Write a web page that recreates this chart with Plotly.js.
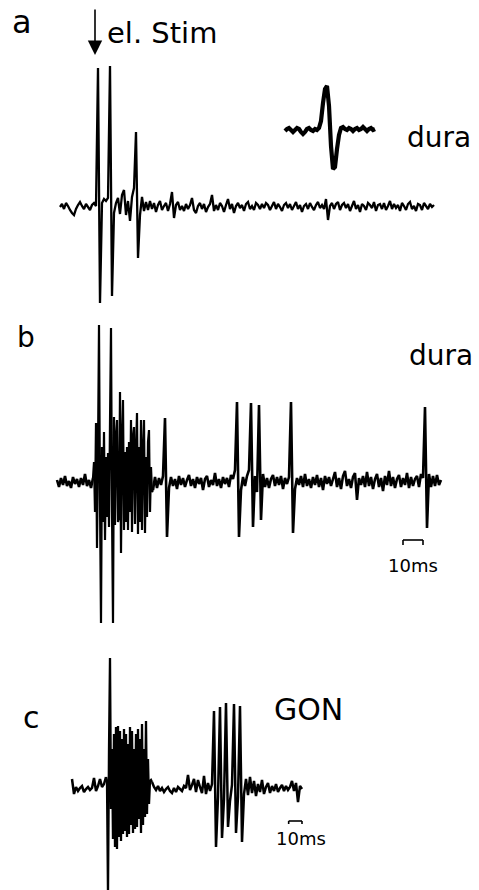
<!DOCTYPE html>
<html>
<head>
<meta charset="utf-8">
<script src="https://cdn.plot.ly/plotly-3.0.1.min.js"></script>
<style>html,body{margin:0;padding:0;background:#fff;}#chart{width:479px;height:890px;}</style>
</head>
<body>
<div id="chart"></div>
<script>
// ---------------- DATA ----------------
// Panel a: dura unit, electrical stimulation; one sample per 1 ms
const traceA_dt = 1;      // ms per sample
const traceA = [
  0, 3, -2, 4, 1, -3, -6, -8, -2, 2, 5, 1, -2, 3, 0, -3, 2, 4, 1,
  139, -96,
  4, 8, 6, 9,
  141, -89,
  -6, 4, 9, -7, 12, 17, -8, 6, -14, 10, 19,
  75, -51,
  -8, 10, -4, 5, -3, 6, -2, 4, -5, 2, 6, -3, 1, 4, -4, 3, 15, -11, 2, 5, -3,
  1, -4, 3, -2, 2, 9, -3, -6, 1, 4,
  -2, 3, -5, 0, 3, 12, -4, 2, -3, 4,
  1, -5, 2, 8, -2, 3, -6, 1, 4, -1,
  2, -4, 3, 5, -2, 1, -3, 4, 2, -2,
  3, -1, 4, 2, -3, 1, 5, -2, 3, 0,
  -4, 2, 4, -1, 3, -3, 1, 5, -2, 2,
  -5, 1, 3, -2, 4, 0, -3, 2, 5, -1,
  2, -2, 8, -13, 1, 4, -2, 3, 5, -3,
  2, 4, -1, 3, -4, 1, 6, -2, 2, -5,
  3, 1, -3, 4, 2, -1, 5, -4, 2, 3,
  -2, 4, -3, 1, 6, -2, 3, -1, 2, -4,
  4, 1, -3, 3, 5, -2, 1, -4, 3, 2,
  -3, 4, 1, -2, 3, 0, 2
];
// Inset in panel a: averaged spike waveform; one sample per 0.1 ms
const spikeInset_dt = 0.1;
const spikeInset = [
  0, 2, 3, 1, -1, 1, 3, 2, -1, -3, -1, 2, 3, 1, 0, 2, 1, 3,
  10, 28, 42, 45, 25, -15, -38, -36, -18, -4,
  3, 4, 2, 1, 3, 2, 0, 2, 3, 1, 2, 4, 2, 0, 2, 3, 1, 2
];

// Panel b: dura unit. Pre-burst (1 ms/sample), burst (0.5 ms/sample), rest (1 ms/sample)
const traceB_pre_t0 = 0, traceB_pre_dt = 1;
const traceB_pre = [
  2, -5, 4, -3, 6, -4, 1, -6, 5, -2, 3, -5, 4, -3, 8, -4, 2, -6, 4
];
const traceB_burst_t0 = 18, traceB_burst_dt = 0.5;
const traceB_burst = [
  4, 20, -30, 59, -66, 30, 157, -20, -141, 35,
  -40, 50, -58, 25, -35, 29, -45, 60, 154, -30,
  -141, 65, -43, 45, 62, -40, -35, 90, -71, 40,
  82, -48, 30, -40, 35, -48, 40, -30, 62, -50,
  45, 55, -42, 30, 69, -52, 35, -40, 62, -48,
  30, 62, -51, 25, -35, 40, 52, -30, 15, -10,
  -8
];
const traceB_post_t0 = 48, traceB_post_dt = 1;
const traceB_post = [
  -8, 5, -6, 4, -3, 6,
  64, -55,
  -6, 5, -4, 3, -7, 6, -3, 4, -5, 2, 7, -4, 3, -6, 5, -2, 4, -8, 3, 6,
  -5, 2, -3, 9, -4, 3, -6, 5, -2, 4, -5, 7, 3, 12,
  80, -55,
  -8, 5, -4, 6, 12,
  79, -45,
  6, -10,
  77, -38,
  8, -5, 4, -6, 3, 7, -4, 5, -3, 6, -7, 4, -2, 5,
  80, -51,
  -7, 4, -3, 6, -5, 8, -4, 3, -6, 5,
  -3, 7, -5, 4, -8, 6, -2, 5, -4, 3,
  10, -5, 4, -7, 6, 11, -4, 3, -6, 5,
  9, -18, 4, -3, 6, -5, 10, -4, 5, -7,
  3, 8, -5, 4, -9, 6, -3, 11, -4, 5,
  -6, 3, 7, -5, 4, -3, 9, -6, 5, -4,
  3, 6, -5, 8, 4,
  75, -46,
  8, -5, 6, -4, 7, -3, 2
];

// Panel c: GON unit. Pre (1.5 ms/sample), burst (0.75 ms/sample), rest (1.5 ms/sample)
const traceC_pre_t0 = 0, traceC_pre_dt = 1.5;
const traceC_pre = [
  10, -5, 2, -2, 1, 3, -3, 0, 2, -1,
  1, 11, -2, 3, 10, 2, 5, 12
];
const traceC_burst_t0 = 25.5, traceC_burst_dt = 0.75;
const traceC_burst = [
  12, 6, -105, 40, 131, -20, 40, -50, 55, -58,
  62, -60, 63, -48, 58, -52, 50, -45, 60, -42,
  55, -48, 45, -45, 62, -36, 58, -44, 40, -40,
  55, -38, 60, -30, 50, -44, 65, -36, 40, -28,
  68, -25, 30, -15, 8, 9, 7
];
const traceC_post_t0 = 60, traceC_post_dt = 1.5;
const traceC_post = [
  7, 2, -1, 3, -2, 1, -3, 0, 2, -2,
  -4, 1, -3, 2, 0, -2, 3, 1, 14, -1,
  4, 10, -3, 9, 2, -4, 13, -5, 6, -2,
  5,
  78, -58, -8, 82, -49, -10, 86, -38, -12, 4, 85, -44, -8, 83, -53, -5, 10,
  -6, 12, -4, 8, -7, 5, -3, 9, -5, 2,
  6, -4, 3, -2, 5, -3, 1, 4, -2, 3,
  -1, 2, 8, -2, 6, -13, 3, 0
];

// Scale bars (10 ms)
const scaleBarB = {t: 173, len: 10, y: -58, tick: 5};
const scaleBarC = {t: 162.5, len: 10, y: -32, tick: 3};

const panelLabels = ['a', 'b', 'c'];
const siteLabels = ['dura', 'dura', 'GON'];
const stimLabel = 'el. Stim';
const scaleLabel = '10ms';

// ---------------- LAYOUT HELPERS ----------------
const W = 479, H = 890;
const PX = p => p / W;
const PY = p => 1 - p / H;
const FONT = 'DejaVu Sans';
const INK = '#000';

function label(text, cx, baseline, size, anchor) {
  return {
    text: text, xref: 'paper', yref: 'paper',
    x: PX(cx), y: PY(baseline - 0.346 * size),
    xanchor: anchor || 'center', yanchor: 'middle',
    showarrow: false, font: {family: FONT, size: size, color: INK}
  };
}

function bar(sb, xr, yr) {
  const ln = {color: INK, width: 1.6};
  return [
    {type: 'line', xref: xr, yref: yr, x0: sb.t, x1: sb.t + sb.len, y0: sb.y, y1: sb.y, line: ln},
    {type: 'line', xref: xr, yref: yr, x0: sb.t, x1: sb.t, y0: sb.y, y1: sb.y - sb.tick, line: ln},
    {type: 'line', xref: xr, yref: yr, x0: sb.t + sb.len, x1: sb.t + sb.len, y0: sb.y, y1: sb.y - sb.tick, line: ln}
  ];
}

function tr(y, x0, dx, ax, w) {
  return {y: y, x0: x0, dx: dx, xaxis: 'x' + ax, yaxis: 'y' + ax, type: 'scatter', mode: 'lines',
          line: {color: INK, width: w, simplify: false}, hoverinfo: 'skip'};
}

const traces = [
  tr(traceA, 0, traceA_dt, '', 2.3),
  tr(spikeInset, 0.25, spikeInset_dt, '4', 4.2),
  tr(traceB_pre, traceB_pre_t0, traceB_pre_dt, '2', 2.6),
  tr(traceB_burst, traceB_burst_t0, traceB_burst_dt, '2', 2.2),
  tr(traceB_post, traceB_post_t0, traceB_post_dt, '2', 2.6),
  tr(traceC_pre, traceC_pre_t0, traceC_pre_dt, '3', 2.5),
  tr(traceC_burst, traceC_burst_t0, traceC_burst_dt, '3', 2.3),
  tr(traceC_post, traceC_post_t0, traceC_post_dt, '3', 2.5)
];

const hid = {visible: false, showgrid: false, zeroline: false, fixedrange: true};
const layout = {
  width: W, height: H,
  margin: {l: 0, r: 0, t: 0, b: 0},
  paper_bgcolor: '#fff', plot_bgcolor: 'rgba(0,0,0,0)',
  showlegend: false,
  xaxis:  Object.assign({}, hid, {domain: [0, 1], range: [-30, 209.5], anchor: 'y'}),
  yaxis:  Object.assign({}, hid, {domain: [PY(310), 1], range: [-103, 207], anchor: 'x'}),
  xaxis2: Object.assign({}, hid, {domain: [0, 1], range: [-28.5, 211], anchor: 'y2'}),
  yaxis2: Object.assign({}, hid, {domain: [PY(630), PY(310)], range: [-148, 172], anchor: 'x2'}),
  xaxis3: Object.assign({}, hid, {domain: [0, 1], range: [-54, 305.25], anchor: 'y3'}),
  yaxis3: Object.assign({}, hid, {domain: [0, PY(630)], range: [-101, 159], anchor: 'x3'}),
  xaxis4: Object.assign({}, hid, {domain: [PX(280), PX(380)], range: [0, 5], anchor: 'y4'}),
  yaxis4: Object.assign({}, hid, {domain: [PY(200), PY(60)], range: [-69, 71], anchor: 'x4'}),
  shapes: [].concat(bar(scaleBarB, 'x2', 'y2'), bar(scaleBarC, 'x3', 'y3')),
  annotations: [
    label(panelLabels[0], 21.5, 33, 32),
    label(panelLabels[1], 26, 347, 28),
    label(panelLabels[2], 31.5, 728, 30),
    label(stimLabel, 105, 43, 29, 'left'),
    label(siteLabels[0], 439, 147, 28),
    label(siteLabels[1], 440.5, 365, 28),
    label(siteLabels[2], 308.5, 720, 30),
    label(scaleLabel, 412.5, 572, 18),
    label(scaleLabel, 300.5, 845, 18),
    {text: '', xref: 'paper', yref: 'paper', x: PX(95), y: PY(55),
     showarrow: true, ax: 0, ay: -47, arrowhead: 2, arrowsize: 1.8, arrowwidth: 1.6,
     arrowcolor: INK, standoff: 0, startstandoff: 0}
  ]
};

Plotly.newPlot('chart', traces, layout, {staticPlot: true, displayModeBar: false});
</script>
</body>
</html>
